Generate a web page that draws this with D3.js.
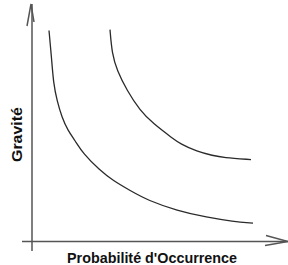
<!DOCTYPE html>
<html>
<head>
<meta charset="utf-8">
<script src="https://cdn.jsdelivr.net/npm/d3@7"></script>
<style>
    body { margin: 0; background: #fff; }
    svg { display: block; }
    .curve { fill: none; stroke: #2a2a2a; stroke-width: 1.3; }
    .axis { stroke: #555; stroke-width: 1.5; fill: none; }
    .label { font-family: "Liberation Sans", Arial, sans-serif; font-weight: bold; fill: #111; }
</style>
</head>
<body>
<script>
(function () {

    // iso-risk curves (x = probabilité, y = gravité, 0..100)
    let lowX = [6.8, 7.8, 8.6, 10.0, 12.0, 14.4, 17.2, 20.4, 27.2, 32.4, 39.2, 46.4, 58.0, 70.0, 80.4, 88.4];
    let lowY = [89.4, 78.0, 66.9, 59.7, 52.5, 47.0, 42.8, 37.3, 30.1, 25.8, 21.6, 17.4, 13.1, 10.2, 8.5, 7.8];
    let highX = [31.2, 32.0, 34.0, 38.0, 43.2, 48.4, 56.4, 59.2, 66.0, 72.4, 76.4, 87.6];
    let highY = [89.8, 79.7, 72.5, 64.0, 55.5, 50.0, 43.6, 41.5, 38.1, 36.4, 35.6, 34.7];

    let xLabel = "Probabilité d'Occurrence";
    let yLabel = "Gravité";

    let width = 288,
        height = 265;

    const svg = d3.select("body")
        .append("svg")
        .attr("width", width)
        .attr("height", height);

    const x = d3.scaleLinear().domain([0, 100]).range([32, 282]);
    const y = d3.scaleLinear().domain([0, 100]).range([241.5, 5.5]);

    //axes, drawn as plain arrows
    svg.append("line")
        .attr("class", "axis")
        .attr("x1", x(0)).attr("y1", y(-4))
        .attr("x2", x(0)).attr("y2", 4);
    svg.append("path")
        .attr("class", "axis")
        .attr("stroke-width", 1.2)
        .attr("d", "M" + (x(0) - 5) + ",26 L" + (x(0) - 1) + ",4 L" + (x(0) + 2) + ",22");

    svg.append("line")
        .attr("class", "axis")
        .attr("x1", x(-4)).attr("y1", y(0))
        .attr("x2", 288).attr("y2", y(0));
    svg.append("path")
        .attr("class", "axis")
        .attr("stroke-width", 1.2)
        .attr("d", "M266," + (y(0) - 6) + " L288," + y(0) + " L265," + (y(0) + 4));

    let line = d3.line()
        .x(function (d) { return x(d[0]); })
        .y(function (d) { return y(d[1]); })
        .curve(d3.curveBasis);

    let series = [d3.zip(lowX, lowY), d3.zip(highX, highY)];

    svg.selectAll(".curve")
        .data(series)
        .enter()
        .append("path")
        .attr("class", "curve")
        .attr("d", line);

    svg.append("text")
        .attr("class", "label")
        .attr("x", 152)
        .attr("y", 263)
        .attr("text-anchor", "middle")
        .attr("font-size", 14)
        .attr("textLength", 170)
        .attr("lengthAdjust", "spacingAndGlyphs")
        .text(xLabel);

    svg.append("text")
        .attr("class", "label")
        .attr("transform", "translate(22,134.5) rotate(-90)")
        .attr("text-anchor", "middle")
        .attr("font-size", 14)
        .attr("textLength", 55)
        .attr("lengthAdjust", "spacingAndGlyphs")
        .text(yLabel);

})();
</script>
</body>
</html>
